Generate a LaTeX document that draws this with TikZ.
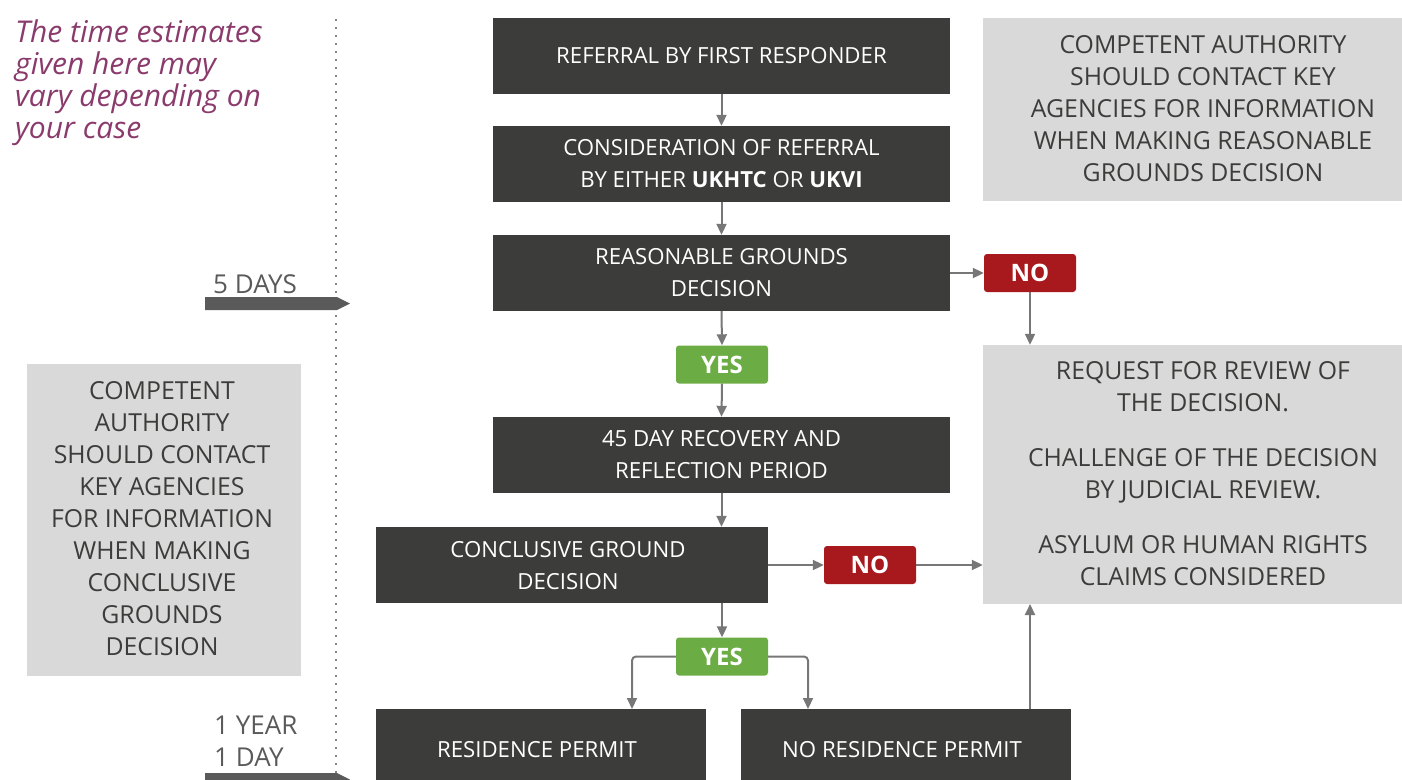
\documentclass[tikz,border=0pt]{standalone}
\usepackage{fontspec}
\setmainfont{Open Sans}
\usetikzlibrary{arrows.meta}
\definecolor{darkbox}{HTML}{3C3C3B}
\definecolor{greybox}{HTML}{D9D9D9}
\definecolor{nored}{HTML}{A8191E}
\definecolor{yesgreen}{HTML}{6CAC44}
\definecolor{arrowgrey}{HTML}{777777}
\definecolor{labelgrey}{HTML}{5A5A5A}
\definecolor{notepurple}{HTML}{8A3B6C}
\tikzset{
  x=1pt, y=-1pt,
  boxtext/.style={font=\fontsize{22.2}{32}\selectfont, align=center, inner sep=0pt},
  greytext/.style={font=\fontsize{24.8}{32}\selectfont, align=center, inner sep=0pt, text=darkbox},
  darkbox/.style={boxtext, fill=darkbox, text=white},
  greybox/.style={fill=greybox, inner sep=0pt},
  badge/.style={inner sep=0pt, rounded corners=3pt, minimum width=92pt, minimum height=38pt,
    text=white, font=\fontsize{24}{26}\selectfont\bfseries},
  nobadge/.style={badge, fill=nored},
  yesbadge/.style={badge, fill=yesgreen},
  flow/.style={draw=arrowgrey, line width=2pt, -{Triangle[length=11pt,width=10pt]}},
  timelabel/.style={text=labelgrey, font=\fontsize{26}{32}\selectfont, inner sep=0pt, anchor=base west, align=left},
  timearrow/.style={fill=labelgrey, draw=none}
}
\begin{document}
\begin{tikzpicture}
\useasboundingbox (0,0) rectangle (1402,779);

% dotted time line
\draw[labelgrey, line width=2.4pt, line cap=round, dash pattern=on 0pt off 8pt] (336,20) -- (336,779);

% note
\node[text=notepurple, font=\fontsize{30}{32}\selectfont\itshape, anchor=north west, align=left, inner sep=0pt]
  (note) at (15,20) {The time estimates\\given here may\\vary depending on\\your case};

% main boxes
\node[darkbox, minimum width=457pt, minimum height=76pt] (b1) at (721.5,56) {REFERRAL BY FIRST RESPONDER};
\node[darkbox, minimum width=457pt, minimum height=76pt] (b2) at (721.5,164) {CONSIDERATION OF REFERRAL\\BY EITHER \textbf{UKHTC} OR \textbf{UKVI}};
\node[darkbox, minimum width=457pt, minimum height=76pt] (b3) at (721.5,273) {REASONABLE GROUNDS\\DECISION};
\node[yesbadge] (yes1) at (722,364.5) {YES};
\node[darkbox, minimum width=457pt, minimum height=76pt] (b4) at (721.5,455) {45 DAY RECOVERY AND\\REFLECTION PERIOD};
\node[darkbox, minimum width=392pt, minimum height=76pt] (b5) at (572,565) {};
\node[boxtext, text=white] (b5t) at (568,566) {CONCLUSIVE GROUND\\DECISION};
\node[nobadge] (no2) at (870,565) {NO};
\node[yesbadge] (yes2) at (722,656.5) {YES};
\node[darkbox, minimum width=330pt, minimum height=76pt] (b6) at (541,747) {};
\node[boxtext, text=white] (b6t) at (537,750) {RESIDENCE PERMIT};
\node[darkbox, minimum width=330pt, minimum height=76pt] (b7) at (906,747) {};
\node[boxtext, text=white] (b7t) at (902,750) {NO RESIDENCE PERMIT};
\node[nobadge] (no1) at (1030,273) {NO};

% grey boxes
\node[greybox, minimum width=419pt, minimum height=183pt] (g1) at (1192.5,109.5) {};
\node[greytext] (g1t) at (1203,109) {COMPETENT AUTHORITY\\SHOULD CONTACT KEY\\AGENCIES FOR INFORMATION\\WHEN MAKING REASONABLE\\GROUNDS DECISION};
\node[greybox, minimum width=419pt, minimum height=259pt] (g2) at (1192.5,474.5) {};
\node[greytext] (g2t) at (1203,474) {REQUEST FOR REVIEW OF\\THE DECISION.\\[23pt]CHALLENGE OF THE DECISION\\BY JUDICIAL REVIEW.\\[23pt]ASYLUM OR HUMAN RIGHTS\\CLAIMS CONSIDERED};
\node[greybox, minimum width=274pt, minimum height=312pt] (g3) at (164,520) {};
\node[greytext] (g3t) at (162,519) {COMPETENT\\AUTHORITY\\SHOULD CONTACT\\KEY AGENCIES\\FOR INFORMATION\\WHEN MAKING\\CONCLUSIVE\\GROUNDS\\DECISION};

% time labels and arrows
\node[timelabel] (t5) at (213,293) {5 DAYS};
\fill[timearrow] (205,297) -- (337,297) -- (350,303.5) -- (337,310) -- (205,310) -- cycle;
\node[timelabel] (t1) at (214,766) {1 YEAR\\1 DAY};
\fill[timearrow] (205,773) -- (337,773) -- (350,779.5) -- (337,786) -- (205,786) -- cycle;

% connectors
\draw[flow] (b1.south) -- (b2.north);
\draw[flow] (b2.south) -- (b3.north);
\draw[flow] (b3.south) -- (yes1.north);
\draw[flow] (yes1.south) -- (b4.north);
\draw[flow] (b4.south) -- (b4.south |- b5.north);
\draw[flow] (b3.east) -- (no1.west);
\draw[flow] (no1.south) -- (no1.south |- g2.north);
\draw[flow] (b5.east) -- (no2.west);
\draw[flow] (no2.east) -- (no2.east -| g2.west);
\draw[flow] (yes1.south |- b5.south) -- (yes2.north);
\draw[flow, rounded corners=4pt] (yes2.west) -- (632,656.5) -- (632,709);
\draw[flow, rounded corners=4pt] (yes2.east) -- (808,656.5) -- (808,709);
\draw[flow] (1030,709) -- (1030,604);
\end{tikzpicture}
\end{document}
